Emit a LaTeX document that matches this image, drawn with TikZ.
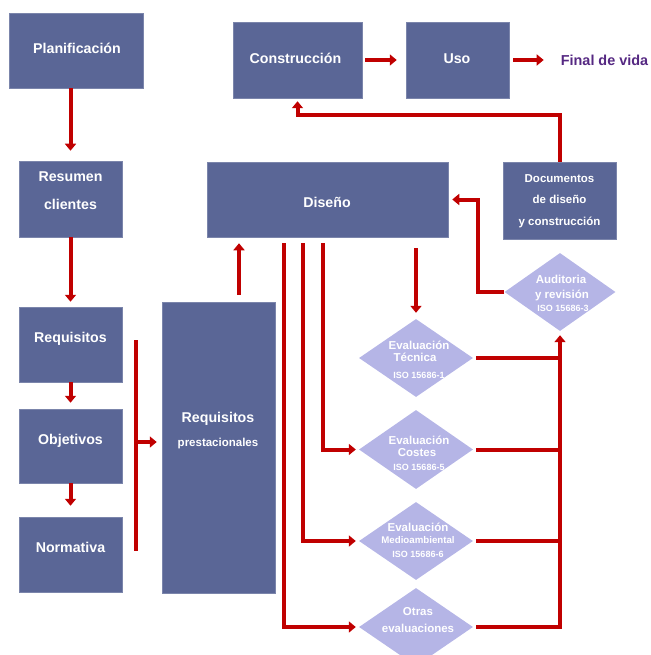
\documentclass[tikz,border=0pt]{standalone}
\usepackage{fontspec}
\setmainfont{Liberation Sans}
\usetikzlibrary{shapes.geometric,arrows.meta}
\definecolor{boxblue}{RGB}{90,102,150}
\definecolor{dialav}{RGB}{181,181,230}
\definecolor{arred}{RGB}{192,0,0}
\definecolor{endpurple}{RGB}{85,40,130}
\begin{document}
\begin{tikzpicture}[x=1pt,y=-1pt,
  box/.style={rectangle, fill=boxblue, inner sep=0pt, draw=boxblue!80!white, line width=0.5pt},
  dia/.style={diamond, fill=dialav, inner sep=0pt, minimum width=114pt, minimum height=78pt},
  redline/.style={draw=arred, line width=4pt},
  arr/.style={redline, -{Triangle[width=11pt,length=7pt]}},
  tA/.style={text=white, inner sep=0pt, font=\fontsize{14.2}{16}\selectfont\bfseries, text height=10.2pt, text depth=0pt},
  tB/.style={text=white, inner sep=0pt, font=\fontsize{11.5}{13}\selectfont\bfseries, text height=8.2pt, text depth=0pt},
  tC/.style={text=white, inner sep=0pt, font=\fontsize{9}{10}\selectfont\bfseries, text height=6.4pt, text depth=0pt},
  tD/.style={text=white, inner sep=0pt, font=\fontsize{9.7}{11}\selectfont\bfseries, text height=6.9pt, text depth=0pt}]
\useasboundingbox (0,0) rectangle (650,655);

% boxes
\node[box, minimum width=134pt, minimum height=75pt] (plan) at (76,50.5) {};
\node[box, minimum width=129pt, minimum height=76pt] (cons) at (297.5,60) {};
\node[box, minimum width=103pt, minimum height=76pt] (uso) at (457.5,60) {};
\node[box, minimum width=103pt, minimum height=76pt] (res) at (70.5,199) {};
\node[box, minimum width=103pt, minimum height=75pt] (req) at (70.5,344.5) {};
\node[box, minimum width=103pt, minimum height=74pt] (obj) at (70.5,446) {};
\node[box, minimum width=103pt, minimum height=75pt] (norm) at (70.5,554.5) {};
\node[box, minimum width=113pt, minimum height=291pt] (rp) at (218.5,447.5) {};
\node[box, minimum width=241pt, minimum height=75pt] (dis) at (327.5,199.5) {};
\node[box, minimum width=113pt, minimum height=77pt] (doc) at (559.5,200.5) {};

% diamonds
\node[dia, minimum width=111pt] (aud) at (560,292) {};
\node[dia] (tec) at (416,358) {};
\node[dia, minimum height=79pt] (cos) at (416,449.5) {};
\node[dia] (med) at (416,541) {};
\node[dia] (otr) at (416,627) {};

% end text
\node[inner sep=0pt, text=endpurple, font=\fontsize{14.4}{16}\selectfont\bfseries, text height=10.3pt, text depth=0pt] (fin) at (604.5,60) {Final de vida};

% box texts
\node[tA] (t1) at (77,48) {Planificación};
\node[tA] (t2) at (295.5,58) {Construcción};
\node[tA] (t3) at (457,58) {Uso};
\node[tA] (t4) at (70.5,176.5) {Resumen};
\node[tA] (t5) at (70.5,204) {clientes};
\node[tA] (t6) at (70.5,337) {Requisitos};
\node[tA] (t7) at (70.5,439) {Objetivos};
\node[tA] (t8) at (70.5,547) {Normativa};
\node[tA] (t9) at (218,417) {Requisitos};
\node[tB] (t10) at (218,442) {prestacionales};
\node[tA] (t11) at (327,202) {Diseño};
\node[tB] (t12) at (559.5,178) {Documentos};
\node[tB] (t13) at (559.5,199) {de diseño};
\node[tB] (t14) at (559.5,221) {y construcción};

% diamond texts
\node[tB] (t15) at (561,279) {Auditoria};
\node[tB] (t16) at (562,294) {y revisión};
\node[tC] (t17) at (563,308) {ISO 15686-3};
\node[tB] (t18) at (419,345) {Evaluación};
\node[tB] (t19) at (415,357) {Técnica};
\node[tC] (t20) at (419,375) {ISO 15686-1};
\node[tB] (t21) at (419,440) {Evaluación};
\node[tB] (t22) at (417,452) {Costes};
\node[tC] (t23) at (419,467) {ISO 15686-5};
\node[tB] (t24) at (418,527) {Evaluación};
\node[tD] (t25) at (418,540) {Medioambiental};
\node[tC] (t26) at (418,554) {ISO 15686-6};
\node[tB] (t27) at (418,611) {Otras};
\node[tB] (t28) at (418,628) {evaluaciones};

% helper coordinates
\coordinate (ret) at (0,115);
\coordinate (xa) at (239,0);
\coordinate (bt) at (136,340);
\coordinate (bb) at (136,551);
\coordinate (bm) at (136,442);
\coordinate (x1) at (323,0);
\coordinate (x2) at (303,0);
\coordinate (x3) at (284,0);
\coordinate (xb) at (478,0);

% left column
\draw[arr, shorten >=10pt] (plan.south -| res.north) -- (res.north);
\draw[arr, shorten >=5pt] (res.south) -- (req.north);
\draw[arr, shorten >=6pt] (req.south) -- (obj.north);
\draw[arr, shorten >=11pt] (obj.south) -- (norm.north);
\draw[redline] (bt) -- (bb);
\draw[arr, shorten >=5pt] (bm) -- (bm -| rp.west);

% top row
\draw[arr, shorten <=3pt, shorten >=9pt] (cons.east) -- (uso.west);
\draw[arr, shorten <=4pt, shorten >=17pt] (uso.east) -- (fin.west);
\draw[arr, shorten >=3pt] (doc.north) -- (doc.north |- ret) -| (cons.south);

% design
\draw[arr, shorten <=7pt, shorten >=6pt] (rp.north -| xa) -- (dis.south -| xa);
\draw[arr, shorten <=11pt, shorten >=6pt] (dis.south -| tec.north) -- (tec.north);
\draw[arr, shorten <=6pt, shorten >=3pt] (dis.south -| x1) |- (cos.west);
\draw[arr, shorten <=6pt, shorten >=3pt] (dis.south -| x2) |- (med.west);
\draw[arr, shorten <=6pt, shorten >=3pt] (dis.south -| x3) |- (otr.west);
\draw[arr, shorten >=4pt] (aud.west) -- (aud.west -| xb) |- (dis.east);

% evaluations to audit
\draw[redline, shorten <=3pt] (tec.east) -- (tec.east -| aud.south);
\draw[redline, shorten <=3pt] (cos.east) -- (cos.east -| aud.south);
\draw[redline, shorten <=3pt] (med.east) -- (med.east -| aud.south);
\draw[arr, shorten <=3pt, shorten >=4pt] (otr.east) -| (aud.south);
\end{tikzpicture}
\end{document}
